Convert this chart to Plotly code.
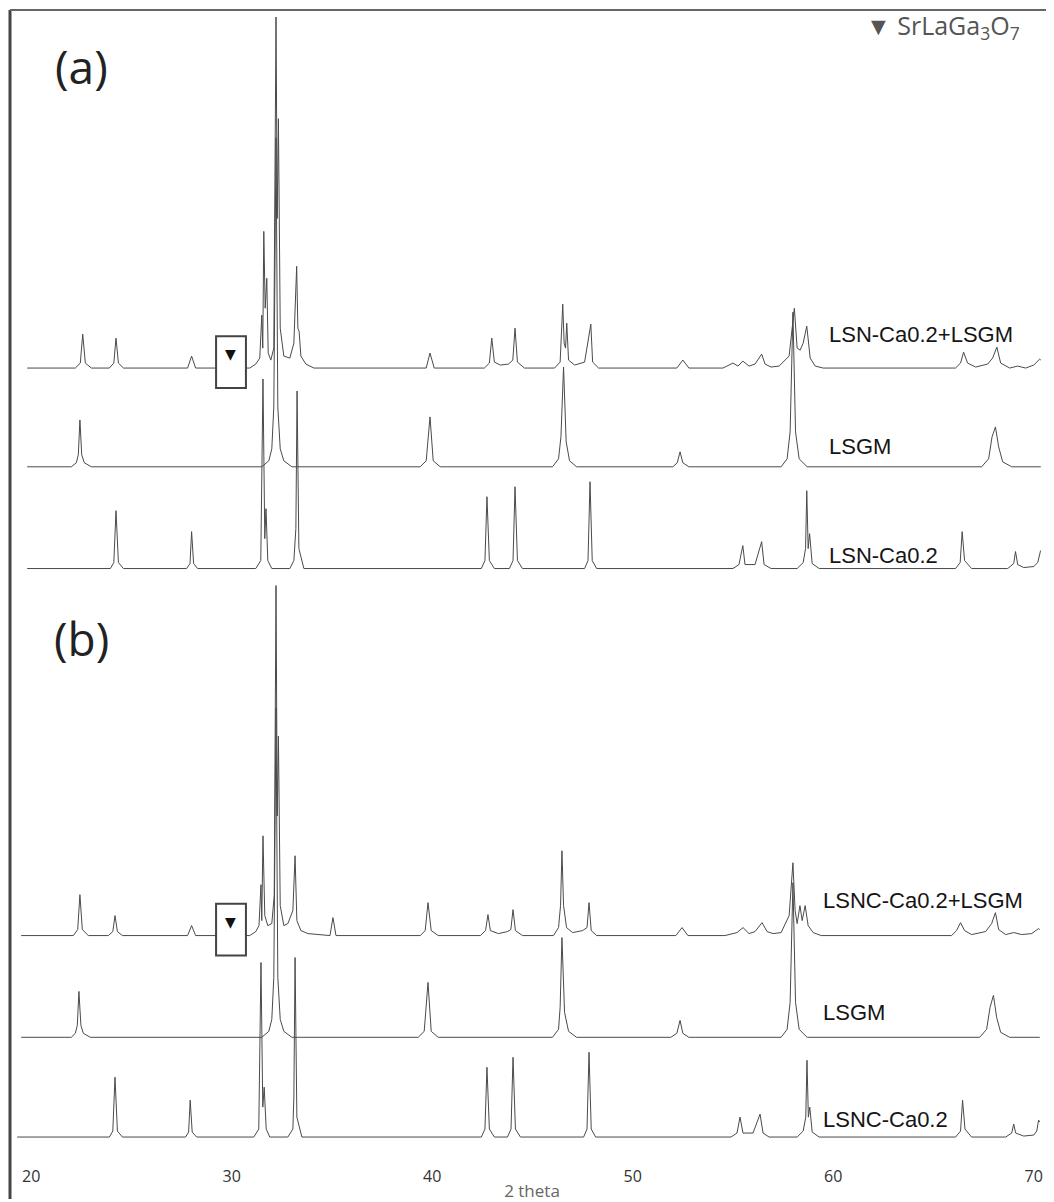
import plotly.graph_objects as go

# ---------------- data (2theta in degrees, intensity in a.u. above each baseline) -------------
# Panel (a)
a1_name = "LSN-Ca0.2+LSGM"
a1_x = [19.8, 22.2, 22.45, 22.57, 22.7, 23.0, 23.9, 24.12, 24.23, 24.35, 24.6, 27.8, 28.0, 28.2,
        30.9, 31.2, 31.4, 31.5, 31.55, 31.6, 31.67, 31.75, 31.82, 31.95, 32.1, 32.21, 32.27, 32.33,
        32.42, 32.6, 32.9, 33.1, 33.24, 33.3, 33.36, 33.45, 33.7, 34.1, 39.7, 39.89, 40.1,
        42.6, 42.85, 42.97, 43.1, 43.4, 43.8, 44.02, 44.13, 44.25, 44.6,
        46.1, 46.38, 46.46, 46.51, 46.58, 46.65, 46.71, 46.8, 47.1, 47.6, 47.91, 48.0, 48.3,
        52.2, 52.5, 52.8, 54.5, 55.0, 55.25, 55.49, 55.8, 56.1, 56.43, 56.6, 56.9, 57.3, 57.8,
        58.06, 58.2, 58.35, 58.5, 58.68, 58.85, 59.1, 59.5,
        66.1, 66.35, 66.5, 66.7, 67.1, 67.7, 67.95, 68.16, 68.35, 68.8, 69.2, 69.6, 70.0, 70.3, 70.35]
a1_y = [0, 0, 5, 34, 5, 0, 0, 5, 30, 5, 0, 0, 12, 0,
        0, 4, 10, 53, 20, 137, 60, 90, 15, 8, 20, 352, 150, 250,
        40, 12, 10, 25, 102, 40, 37, 12, 4, 0, 0, 15, 0,
        0, 5, 30, 6, 3, 4, 8, 40, 6, 0,
        0, 6, 34, 64, 25, 20, 45, 8, 3, 6, 44, 6, 0,
        0, 8, 0, 0, 5, 2, 7, 2, 4, 14, 4, 1, 2, 12,
        60, 20, 18, 25, 42, 10, 2, 0,
        0, 5, 16, 5, 1, 4, 10, 21, 5, 0, 2, 0, 3, 9, 8]

a2_name = "LSGM"
a2_x = [19.8, 22.0, 22.25, 22.35, 22.43, 22.52, 22.65, 23.0,
        31.5, 31.85, 32.0, 32.1, 32.21, 32.3, 32.42, 32.6, 33.0,
        39.4, 39.7, 39.89, 40.05, 40.4,
        46.0, 46.3, 46.42, 46.55, 46.68, 46.85, 47.2,
        52.0, 52.22, 52.36, 52.5, 52.8,
        57.4, 57.7, 57.85, 57.99, 58.12, 58.3, 58.7,
        67.4, 67.75, 67.92, 68.09, 68.25, 68.45, 68.9, 70.35]
a2_y = [0, 0, 4, 12, 47, 12, 4, 0,
        0, 6, 18, 60, 330, 60, 18, 6, 0,
        0, 6, 50, 6, 0,
        0, 8, 30, 100, 25, 6, 0,
        0, 4, 15, 4, 0,
        0, 8, 35, 155, 35, 8, 0,
        0, 8, 30, 40, 20, 5, 0, 0]

a3_name = "LSN-Ca0.2"
a3_x = [19.8, 23.95, 24.12, 24.23, 24.35, 24.6, 27.75, 27.92, 28.0, 28.1, 28.3,
        31.2, 31.45, 31.56, 31.65, 31.71, 31.8, 32.0, 32.9, 33.1, 33.2, 33.26, 33.35, 33.6,
        42.45, 42.63, 42.73, 42.85, 43.1, 43.85, 44.03, 44.13, 44.25, 44.5,
        47.6, 47.77, 47.87, 47.98, 48.2,
        55.0, 55.3, 55.49, 55.6, 56.1, 56.43, 56.55, 56.9,
        58.2, 58.5, 58.62, 58.68, 58.75, 58.82, 58.95, 59.3,
        66.1, 66.33, 66.43, 66.55, 66.9, 68.7, 69.0, 69.09, 69.2, 69.5, 70.0, 70.2, 70.34]
a3_y = [0, 0, 6, 58, 6, 0, 0, 5, 37, 5, 0,
        0, 8, 190, 30, 60, 8, 0, 0, 8, 40, 178, 20, 0,
        0, 8, 72, 8, 0, 0, 8, 82, 8, 0,
        0, 8, 87, 8, 0,
        0, 4, 23, 4, 4, 27, 4, 0,
        0, 6, 20, 78, 20, 35, 5, 0,
        0, 6, 37, 8, 0, 0, 5, 17, 4, 1, 2, 6, 18]

# Panel (b)
b1_name = "LSNC-Ca0.2+LSGM"
b1_x = [19.5, 22.1, 22.32, 22.43, 22.55, 22.85, 23.85, 24.07, 24.18, 24.3, 24.55, 27.8, 28.0, 28.2,
        30.9, 31.2, 31.36, 31.46, 31.5, 31.56, 31.65, 31.8, 32.0, 32.12, 32.21, 32.27, 32.33, 32.42,
        32.6, 32.8, 33.05, 33.16, 33.25, 33.45, 33.8, 34.9, 35.05, 35.2, 35.5,
        39.4, 39.65, 39.79, 39.95, 40.3,
        42.4, 42.66, 42.78, 42.9, 43.3, 43.75, 43.92, 44.03, 44.15, 44.5,
        46.05, 46.3, 46.4, 46.47, 46.55, 46.7, 47.0, 47.5, 47.72, 47.82, 47.93, 48.2,
        52.15, 52.46, 52.75,
        54.6, 55.2, 55.5, 55.8, 56.1, 56.45, 56.7, 57.0, 57.4, 57.8, 57.99, 58.1, 58.2, 58.34, 58.45,
        58.6, 58.75, 59.0, 59.4,
        65.9, 66.15, 66.35, 66.55, 66.9, 67.6, 67.9, 68.09, 68.25, 68.6, 69.0, 69.4, 69.9, 70.24, 70.3]
b1_y = [0, 0, 6, 41, 6, 0, 0, 4, 20, 4, 0, 0, 10, 0,
        0, 4, 10, 51, 15, 100, 20, 10, 12, 40, 351, 120, 200, 30,
        10, 12, 25, 80, 15, 5, 2, 0, 18, 0, 0,
        0, 5, 33, 5, 0,
        0, 5, 21, 5, 2, 4, 6, 26, 5, 0,
        0, 8, 30, 85, 30, 8, 3, 5, 8, 33, 5, 0,
        0, 8, 0,
        0, 3, 8, 2, 4, 13, 4, 2, 3, 20, 73, 25, 12, 30, 15,
        30, 10, 3, 0,
        0, 5, 13, 5, 1, 4, 12, 23, 6, 1, 3, 1, 2, 7, 6]

b2_name = "LSGM"
b2_x = [19.5, 22.0, 22.2, 22.3, 22.38, 22.48, 22.6, 22.95,
        31.5, 31.85, 32.0, 32.1, 32.21, 32.3, 32.42, 32.6, 33.0,
        39.3, 39.6, 39.79, 39.95, 40.3,
        46.0, 46.3, 46.38, 46.47, 46.6, 46.8, 47.2,
        51.9, 52.2, 52.36, 52.5, 52.8,
        57.4, 57.7, 57.85, 57.99, 58.12, 58.3, 58.7,
        67.3, 67.65, 67.82, 67.99, 68.15, 68.35, 68.8, 70.3]
b2_y = [0, 0, 4, 12, 46, 12, 4, 0,
        0, 6, 18, 60, 330, 60, 18, 6, 0,
        0, 6, 55, 6, 0,
        0, 8, 30, 100, 25, 6, 0,
        0, 4, 17, 4, 0,
        0, 8, 35, 155, 35, 8, 0,
        0, 8, 30, 42, 20, 5, 0, 0]

b3_name = "LSNC-Ca0.2"
b3_x = [19.3, 23.9, 24.07, 24.18, 24.3, 24.55, 27.7, 27.85, 27.93, 28.03, 28.25,
        31.1, 31.35, 31.46, 31.55, 31.62, 31.72, 31.9, 32.8, 33.05, 33.1, 33.16, 33.25, 33.5,
        42.45, 42.63, 42.73, 42.85, 43.1, 43.75, 43.93, 44.03, 44.15, 44.4,
        47.55, 47.72, 47.82, 47.93, 48.15,
        54.9, 55.2, 55.35, 55.5, 56.0, 56.35, 56.5, 56.8,
        58.2, 58.5, 58.63, 58.69, 58.76, 58.83, 58.95, 59.3,
        66.1, 66.35, 66.45, 66.57, 66.9, 68.6, 68.9, 69.0, 69.1, 69.5, 70.0, 70.15, 70.24, 70.3]
b3_y = [0, 0, 6, 60, 6, 0, 0, 5, 37, 5, 0,
        0, 8, 175, 30, 50, 8, 0, 0, 8, 40, 180, 20, 0,
        0, 8, 70, 8, 0, 0, 8, 80, 8, 0,
        0, 8, 85, 8, 0,
        0, 4, 20, 4, 4, 23, 4, 0,
        0, 6, 20, 77, 20, 30, 5, 0,
        0, 6, 37, 8, 0, 0, 4, 13, 4, 1, 2, 6, 17, 15]

# SrLaGa3O7 impurity reflection marked in the mixed samples
impurity_2theta = [29.95]

tick_vals = [20, 30, 40, 50, 60, 70]
tick_text = ["20", "30", "40", "50", "60", "70"]

# ---------------- layout constants (positions / styles) ----------------
# the page body adds an 8 px margin, so the figure is 16 px smaller than the window
W, H = 1046, 1194
ML, MR, MT, MB = 2, 0, 2, 45
PLOT_H = H - MT - MB
X_RANGE = [18.943, 71.01]
offsets = {"a1": 788, "a2": 689, "a3": 587, "b1": 219, "b2": 117, "b3": 17}
line_col = "#4a4a4a"

fig = go.Figure()
series = [("a1", a1_name, a1_x, a1_y), ("a2", a2_name, a2_x, a2_y), ("a3", a3_name, a3_x, a3_y),
          ("b1", b1_name, b1_x, b1_y), ("b2", b2_name, b2_x, b2_y), ("b3", b3_name, b3_x, b3_y)]
for key, name, xs, ys in series:
    off = offsets[key]
    fig.add_trace(go.Scatter(x=xs, y=[v + off for v in ys], mode="lines", name=name,
                             line=dict(color=line_col, width=1), showlegend=False,
                             hoverinfo="skip"))

# labels of the patterns
label_font = dict(family="Liberation Sans, Arial, sans-serif", size=22, color="#151515")
label_pos = {"a1": (59.69, 822), "a2": (59.69, 709), "a3": (59.69, 600),
             "b1": (59.39, 254), "b2": (59.39, 142), "b3": (59.39, 35)}
for key, name, xs, ys in series:
    lx, ly = label_pos[key]
    fig.add_annotation(x=lx, y=ly, text=name, showarrow=False, xanchor="left", yanchor="middle",
                       font=label_font)

# impurity markers with boxes
for key in ["a1", "b1"]:
    off = offsets[key]
    for p in impurity_2theta:
        fig.add_shape(type="rect", x0=p - 0.73, x1=p + 0.76, y0=off - 20, y1=off + 32,
                      line=dict(color="#444", width=2), fillcolor="white", layer="above")
        fig.add_annotation(x=p, y=off + 14, text="▼", showarrow=False,
                           font=dict(family="DejaVu Sans", size=14, color="#111"))

# panel letters
fig.add_annotation(x=22.53, y=1091, text="(a)", showarrow=False,
                   font=dict(family="Open Sans, sans-serif", size=46, color="#222"))
fig.add_annotation(x=22.53, y=517, text="(b)", showarrow=False,
                   font=dict(family="Open Sans, sans-serif", size=46, color="#222"))
# phase key
fig.add_annotation(x=61.55, y=1130, text="▼ SrLaGa<sub>3</sub>O<sub>7</sub>", showarrow=False,
                   xanchor="left", yanchor="middle",
                   font=dict(family="Open Sans, sans-serif", size=25, color="#555"))

# frame lines
fig.add_shape(type="line", xref="paper", yref="paper", x0=0, x1=0, y0=-MB / PLOT_H, y1=1,
              line=dict(color="#444", width=3))
fig.add_shape(type="line", xref="paper", yref="paper", x0=0, x1=1, y0=1, y1=1,
              line=dict(color="#666", width=2))

fig.update_layout(
    width=W, height=H, margin=dict(l=ML, r=MR, t=MT, b=MB),
    paper_bgcolor="white", plot_bgcolor="white",
    xaxis=dict(range=X_RANGE, tickvals=tick_vals, ticktext=tick_text, showgrid=False,
               zeroline=False, showline=False, ticks="outside", ticklen=8,
               tickcolor="rgba(0,0,0,0)",
               tickfont=dict(family="Open Sans, sans-serif", size=16, color="#333"),
               title=dict(text="2 theta", standoff=3,
                          font=dict(family="Open Sans, sans-serif", size=17, color="#666"))),
    yaxis=dict(range=[0, PLOT_H], visible=False, fixedrange=True),
)

fig.write_html("out.html")
